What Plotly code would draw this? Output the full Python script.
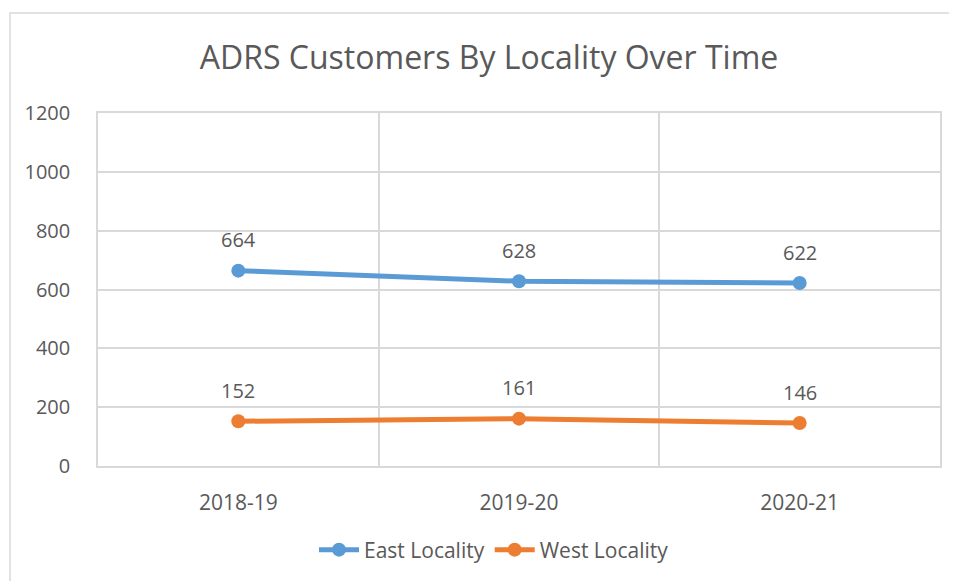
import plotly.graph_objects as go

categories = ["2018-19", "2019-20", "2020-21"]
east = [664, 628, 622]
west = [152, 161, 146]
series_names = ["East Locality", "West Locality"]
y_ticks = [0, 200, 400, 600, 800, 1000, 1200]

BLUE = "#5B9BD5"
ORANGE = "#ED7D31"
GRID = "#D9D9D9"
TXT = "#595959"
FONT = "Open Sans"

fig = go.Figure()
for name, vals, col in [(series_names[0], east, BLUE), (series_names[1], west, ORANGE)]:
    fig.add_trace(go.Scatter(
        x=categories, y=vals, name=name, mode="lines+markers",
        line=dict(color=col, width=5),
        marker=dict(color=col, size=14),
    ))
    for c, v in zip(categories, vals):
        fig.add_annotation(x=c, y=v, text=str(v), showarrow=False,
                           yshift=31, font=dict(family=FONT, size=20, color=TXT))

# page body margin is 8px, so compensate
OFF = 8
W, H = 957 - OFF, 581 - OFF
L, T = 98 - OFF, 113 - OFF
R = W - (940 - OFF)
B = H - (466 - OFF)
pw, ph = W - L - R, H - T - B
fig.add_shape(type="rect", xref="paper", yref="paper",
              x0=(10 - OFF - L) / pw, x1=(W + 30 - L) / pw,
              y0=-(H + 30 - (T + ph)) / ph, y1=(T + ph - (13 - OFF)) / ph,
              line=dict(color=GRID, width=1.5), layer="below")

fig.update_layout(
    width=W, height=H,
    margin=dict(l=L, r=R, t=T, b=B),
    paper_bgcolor="white", plot_bgcolor="white",
    font=dict(family=FONT, color=TXT),
    title=dict(text="ADRS Customers By Locality Over Time",
               x=(489 - OFF) / W, xanchor="center", xref="container",
               y=1 - (58 - OFF) / H, yanchor="middle", yref="container",
               font=dict(family=FONT, size=32, color=TXT)),
    showlegend=True,
    legend=dict(orientation="h", x=(494 - OFF) / W, xanchor="center",
                xref="container", yref="container", y=1 - (550 - OFF) / H, yanchor="middle",
                font=dict(family=FONT, size=21, color=TXT),
                itemwidth=40, tracegroupgap=0),
    xaxis=dict(type="category", tickson="boundaries", showgrid=True, gridcolor=GRID,
               gridwidth=1.5, showline=True, linecolor=GRID, linewidth=1.5, mirror=True,
               ticks="", tickfont=dict(family=FONT, size=21, color=TXT),
               ticklabelstandoff=17, range=[-0.5, 2.5]),
    yaxis=dict(range=[0, 1200], tickvals=y_ticks, showgrid=True, gridcolor=GRID,
               gridwidth=1.5, showline=True, linecolor=GRID, linewidth=1.5, mirror=True,
               ticks="", tickfont=dict(family=FONT, size=20, color=TXT),
               ticklabelstandoff=22, zeroline=False),
)

fig.write_html("out.html")
